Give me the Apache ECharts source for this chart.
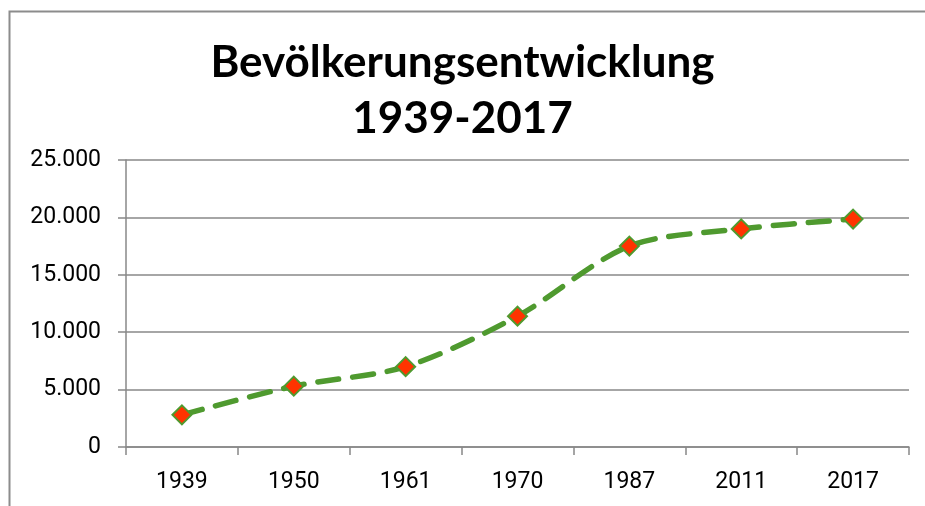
<!DOCTYPE html>
<html>
<head>
<meta charset="utf-8">
<script src="https://cdn.jsdelivr.net/npm/echarts@6/dist/echarts.min.js"></script>
<style>
  html, body { margin: 0; padding: 0; background: #fff; }
  #main { width: 925px; height: 506px; }
</style>
</head>
<body>
<div id="main"></div>
<script>
    // Einwohner je Zaehljahr
    var years = ['1939', '1950', '1961', '1970', '1987', '2011', '2017'];
    var einwohner = [2800, 5300, 7000, 11400, 17500, 19000, 19850];
    var yTicks = [0, 5000, 10000, 15000, 20000, 25000];

    var chart = echarts.init(document.getElementById('main')),
        option = {
            backgroundColor: '#fff',
            animation: false,
            title: {
                text: 'Bevölkerungsentwicklung\n1939-2017',
                left: 'center',
                top: 30,
                textStyle: {
                    fontFamily: 'Lato',
                    fontSize: 44,
                    fontWeight: 'bold',
                    color: '#000',
                    lineHeight: 56
                }
            },
            graphic: [{
                type: 'rect',
                shape: { x: 9.5, y: 11.5, width: 1000, height: 600 },
                style: { fill: 'none', stroke: '#8c8c8c', lineWidth: 2 },
                silent: true
            }],
            grid: { left: 126, right: 16, top: 160, bottom: 59 },
            xAxis: {
                type: 'category',
                data: years,
                boundaryGap: true,
                axisLine: { lineStyle: { color: '#888', width: 1.5 } },
                axisTick: { show: true, length: 8, interval: 0, lineStyle: { color: '#888', width: 1.5 } },
                axisLabel: { fontFamily: 'Roboto', fontSize: 23, color: '#000', margin: 24 },
                splitLine: { show: false }
            },
            yAxis: {
                type: 'value',
                min: yTicks[0],
                max: yTicks[yTicks.length - 1],
                interval: 5000,
                axisLine: { show: true, lineStyle: { color: '#888', width: 1.5 } },
                axisTick: { show: true, length: 8, lineStyle: { color: '#888', width: 1.5 } },
                axisLabel: {
                    fontFamily: 'Roboto', fontSize: 23, color: '#000', margin: 25,
                    formatter: function (v) {
                        return v === 0 ? '0' : String(v).replace(/\B(?=(\d{3})+(?!\d))/g, '.');
                    }
                },
                splitLine: { lineStyle: { color: '#888', width: 1.5 } }
            },
            series: [{
                type: 'line',
                data: einwohner,
                smooth: 0.3,
                symbol: 'diamond',
                symbolSize: 19,
                lineStyle: { color: '#4f9a2f', width: 5.5, type: [21, 14], cap: 'round' },
                itemStyle: { color: '#ff3300', borderColor: '#4f9a2f', borderWidth: 2 },
                z: 3
            }]
        };
    chart.setOption(option);
</script>
</body>
</html>
